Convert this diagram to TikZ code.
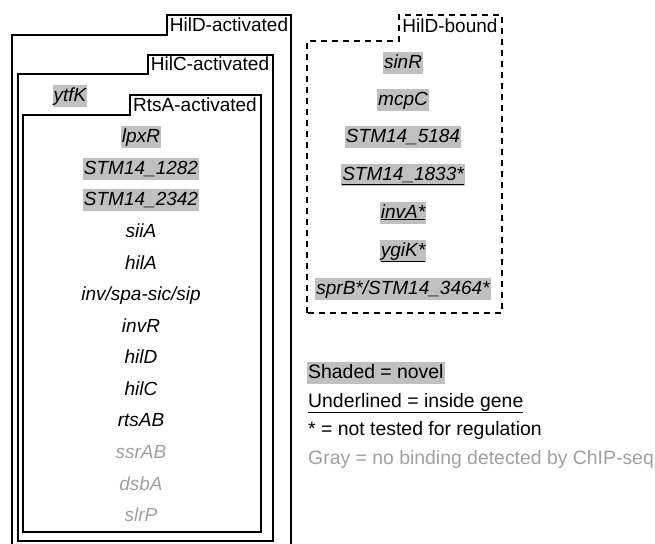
\documentclass[tikz,border=0pt]{standalone}
\usepackage{fontspec}
\setmainfont{Liberation Sans}

\definecolor{shade}{RGB}{192,192,192}
\definecolor{nobind}{RGB}{160,160,160}

\tikzset{
    txt/.style={font=\fontsize{19}{23}\selectfont},
    gene/.style={txt, font=\fontsize{19}{23}\selectfont\itshape, inner xsep=1pt, inner ysep=2pt,
        text height=14pt, text depth=4pt},
    novel/.style={gene, fill=shade},
    unbound/.style={gene, text=nobind},
    setbox/.style={line width=1.8pt},
    boundbox/.style={line width=1.8pt, dash pattern=on 6pt off 5pt},
    tablabel/.style={txt, inner sep=0pt},
    legend/.style={font=\fontsize{19.4}{23}\selectfont, anchor=west, inner xsep=1pt, inner ysep=2pt,
        text height=14pt, text depth=4pt}
}

\begin{document}
\begin{tikzpicture}[x=1pt, y=-1pt]
    \useasboundingbox (0,0) rectangle (655,543);
    \clip (0,0) rectangle (655,543);

    % Nested sets of activated genes (tabbed boxes, open at the bottom edge)
    \draw[setbox] (12,560) -- (12,35) -- (167,35) -- (167,15) -- (291,15) -- (291,560);
    \draw[setbox] (18,541) -- (18,74) -- (148,74) -- (148,55) -- (273,55) -- (273,541) -- cycle;
    \draw[setbox] (23,532) -- (23,115) -- (130,115) -- (130,95) -- (261,95) -- (261,532) -- cycle;

    % Tab labels
    \node[tablabel] (hild-act) at (229,25) {HilD-activated};
    \node[tablabel] (hilc-act) at (210,64) {HilC-activated};
    \node[tablabel] (rtsa-act) at (195,105) {RtsA-activated};

    % HilC-only gene
    \node[novel] (ytfK) at (70,96) {ytfK};

    % Genes activated by all three
    \node[novel]   (lpxR)    at (141,137) {lpxR};
    \node[novel]   (stm1282) at (141,169) {STM14\_1282};
    \node[novel]   (stm2342) at (141,200) {STM14\_2342};
    \node[gene]    (siiA)    at (141,232) {siiA};
    \node[gene]    (hilA)    at (141,264) {hilA};
    \node[gene]    (invspa)  at (141,295) {inv/spa-sic/sip};
    \node[gene]    (invR)    at (141,327) {invR};
    \node[gene]    (hilD)    at (141,358) {hilD};
    \node[gene]    (hilC)    at (141,390) {hilC};
    \node[gene]    (rtsAB)   at (141,421) {rtsAB};
    \node[unbound] (ssrAB)   at (141,453) {ssrAB};
    \node[unbound] (dsbA)    at (141,485) {dsbA};
    \node[unbound] (slrP)    at (141,516) {slrP};

    % HilD-bound set (dashed)
    \draw[boundbox] (307,313) -- (307,41) -- (399,41) -- (399,15) -- (502,15) -- (502,313) -- cycle;
    \node[tablabel] (hild-bound) at (450,26) {HilD-bound};

    \node[novel] (sinR)    at (403,63)  {sinR};
    \node[novel] (mcpC)    at (403,100) {mcpC};
    \node[novel] (stm5184) at (403,137) {STM14\_5184};
    \node[novel] (stm1833) at (403,175) {\underline{STM14\_1833*}};
    \node[novel] (invA)    at (403,213) {\underline{invA*}};
    \node[novel] (ygiK)    at (403,251) {\underline{ygiK*}};
    \node[novel] (sprB)    at (403,289) {sprB*/STM14\_3464*};

    % Legend
    \node[legend, fill=shade] (leg-shade) at (307,373) {Shaded = novel};
    \node[legend] (leg-under) at (307,402) {\underline{Underlined = inside gene}};
    \node[legend] (leg-star)  at (307,430) {* = not tested for regulation};
    \node[legend, text=nobind] (leg-gray) at (307,459) {Gray = no binding detected by ChIP-seq};
\end{tikzpicture}
\end{document}
